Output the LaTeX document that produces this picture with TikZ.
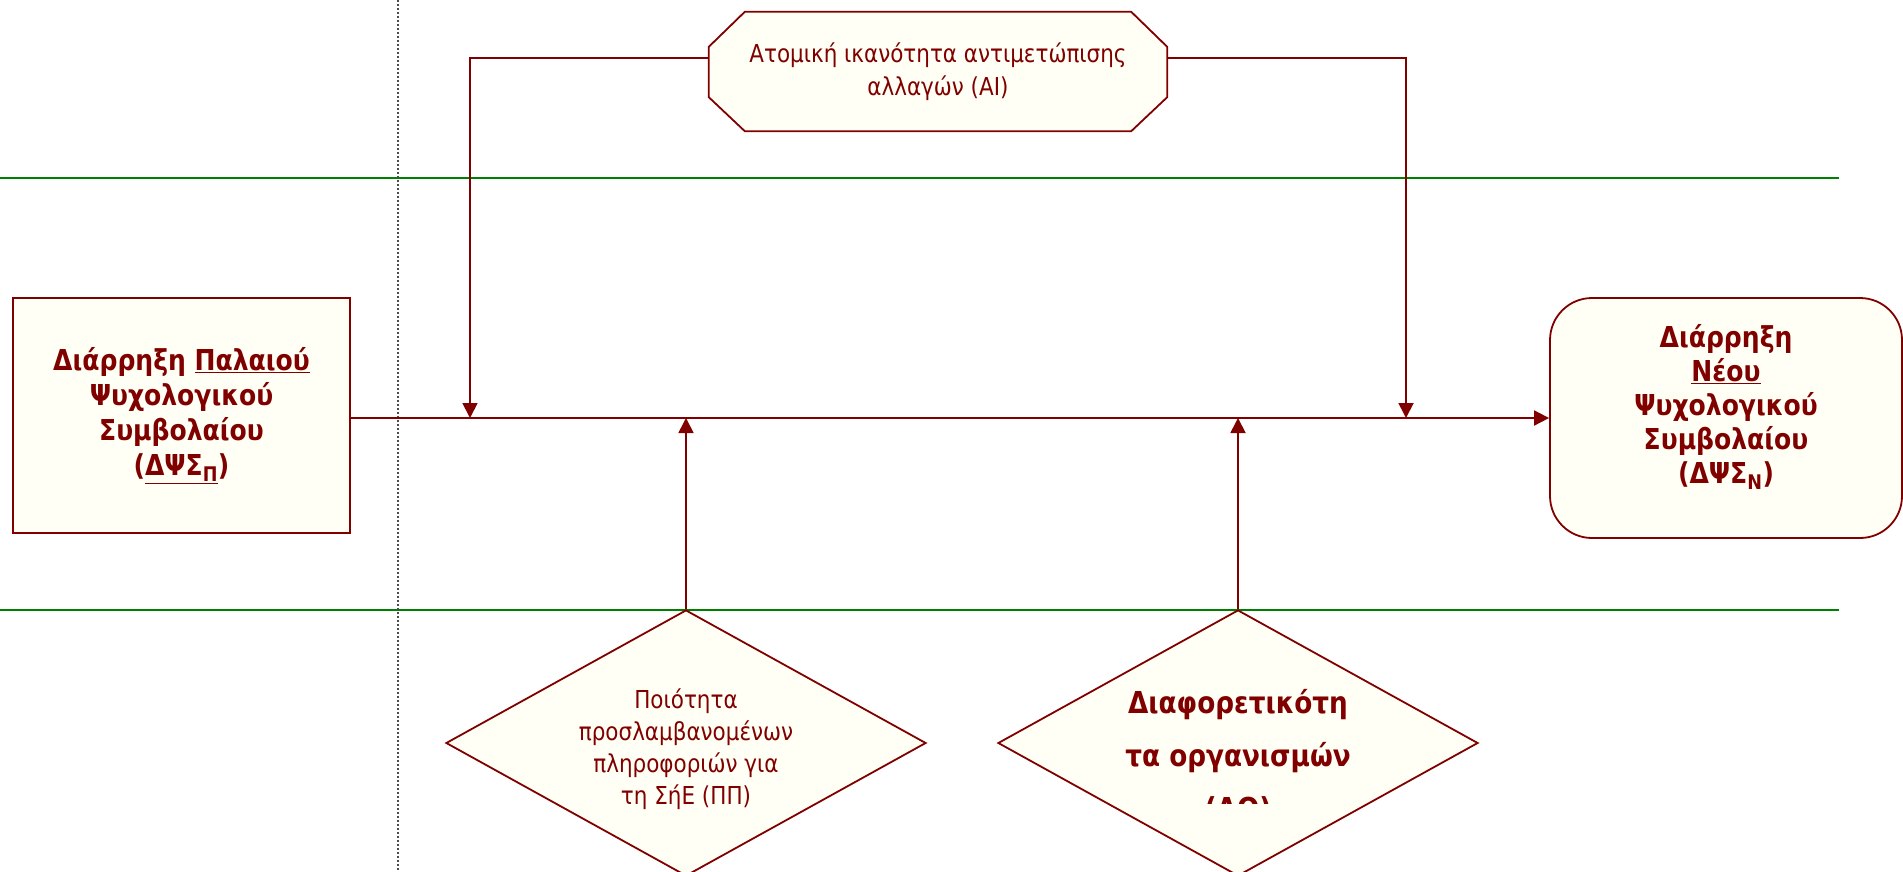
\documentclass[tikz,border=0pt]{standalone}
\usepackage{fontspec}
\setmainfont{DejaVu Sans}[FakeStretch=0.87]
\usetikzlibrary{arrows.meta,calc,shapes.geometric}
\definecolor{maroon}{RGB}{128,0,0}
\definecolor{ivory}{RGB}{255,255,246}
\definecolor{lanegreen}{RGB}{0,128,0}
\begin{document}
\begin{tikzpicture}[x=1pt,y=-1pt,
  line/.style={draw=maroon,line width=1.8pt},
  arr/.style={line,-{Triangle[length=15pt,width=15pt]}},
  boxtxt/.style={text=maroon,align=center,font=\fontsize{28.8}{35}\selectfont\bfseries},
  plaintxt/.style={text=maroon,align=center,font=\fontsize{24.7}{32}\selectfont},
  lane/.style={draw=lanegreen,line width=1.6pt},
  dia/.style={diamond,draw=maroon,fill=ivory,line width=1.8pt,minimum width=480pt,minimum height=266pt,inner sep=0pt}]
\useasboundingbox (0,0) rectangle (1903,871);
% lanes
\draw[lane] (0,178) -- (1839,178);
\draw[lane] (0,610) -- (1839,610);
\draw[draw=black!70,line width=1.5pt,dash pattern=on 2pt off 2pt] (398,0) -- (398,871);
% left box
\node[draw=maroon,fill=ivory,line width=1.8pt,minimum width=337pt,minimum height=235pt,inner sep=0pt,boxtxt] (old) at (181.5,415.5)
 {Διάρρηξη \underline{Παλαιού}\\Ψυχολογικού\\Συμβολαίου\\(\underline{ΔΨΣ\textsubscript{Π}})};
% right box
\node[draw=maroon,fill=ivory,line width=1.8pt,rounded corners=42pt,minimum width=352pt,minimum height=240pt,inner sep=0pt] (new) at (1726,418) {};
\node[boxtxt,font=\fontsize{28.8}{34}\selectfont\bfseries] (newtxt) at ($(new)+(0,-11)$)
 {Διάρρηξη\\\underline{Νέου}\\Ψυχολογικού\\Συμβολαίου\\(ΔΨΣ\textsubscript{N})};
% octagon
\node[minimum width=458pt,minimum height=119pt,inner sep=0pt] (ai) at (938,71.5) {};
\path[line,fill=ivory] ($(ai.north west)+(36,0)$) -- ($(ai.north east)+(-36,0)$) -- ($(ai.north east)+(0,35)$) -- ($(ai.south east)+(0,-34)$) -- ($(ai.south east)+(-36,0)$) -- ($(ai.south west)+(36,0)$) -- ($(ai.south west)+(0,-34)$) -- ($(ai.north west)+(0,35)$) -- cycle;
\node[plaintxt,font=\fontsize{24.7}{33}\selectfont] (aitxt) at (ai) {Ατομική ικανότητα αντιμετώπισης\\αλλαγών (ΑΙ)};
% diamonds
\node[dia] (pp) at (686,743) {};
\node[plaintxt] (pptxt) at ($(pp)+(0,6)$) {Ποιότητα\\προσλαμβανομένων\\πληροφοριών για\\τη ΣήΕ (ΠΠ)};
\node[dia] (do) at (1238,743) {};
\begin{scope}
\clip (998,600) rectangle (1478,803);
\node[text=maroon,align=center,font=\fontsize{30.2}{53}\selectfont\bfseries,anchor=north,inner sep=0pt] (dotxt) at ($(do)+(0,-54)$) {Διαφορετικότη\\τα οργανισμών\\(ΔΟ)};
\end{scope}
% connectors
\coordinate (j1) at (470,418);
\coordinate (j2) at (1406,418);
\coordinate (j3) at (686,418);
\coordinate (j4) at (1238,418);
\draw[arr] (old.east |- new.west) -- (new.west);
\draw[arr] ($(ai.west)+(0,-13.5)$) -| (j1);
\draw[arr] ($(ai.east)+(0,-13.5)$) -| (j2);
\draw[arr] (pp.north) -- (j3);
\draw[arr] (do.north) -- (j4);
\end{tikzpicture}
\end{document}
